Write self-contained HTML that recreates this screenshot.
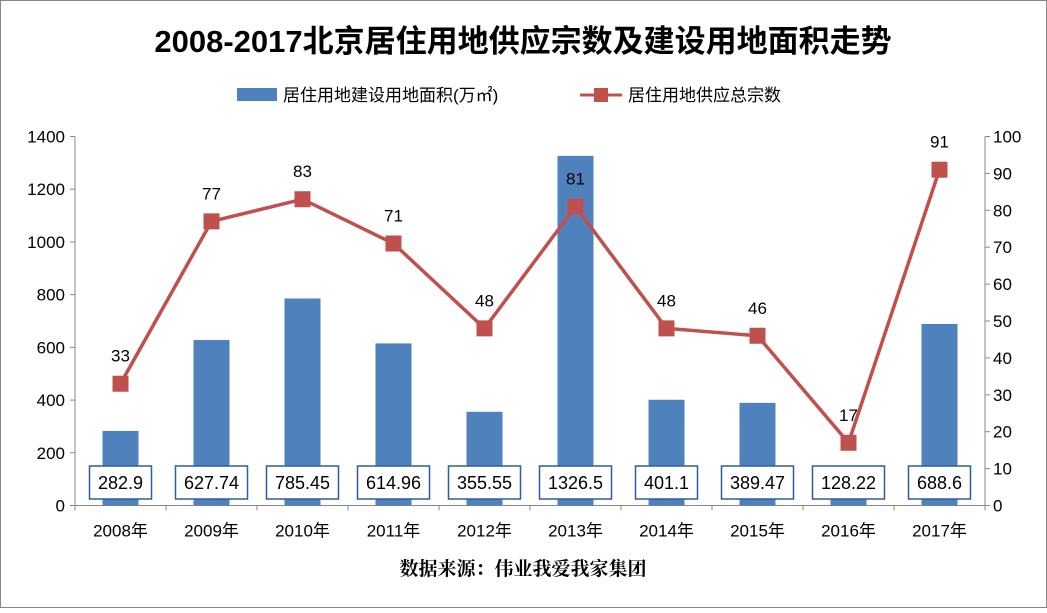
<!DOCTYPE html>
<html><head><meta charset="utf-8"><style>
body{margin:0;background:#fff}
svg text{font-family:"Liberation Sans","Noto Sans CJK SC",sans-serif}
</style></head><body>
<svg id="c" width="1047" height="608" xmlns="http://www.w3.org/2000/svg">
<rect x="0.5" y="0.5" width="1046" height="607" fill="#fff" stroke="#888"/>
<text x="523" y="52" text-anchor="middle" font-size="31" font-weight="bold" fill="#000">2008-2017北京居住用地供应宗数及建设用地面积走势</text>
<g>
<rect x="237" y="88" width="40" height="13" fill="#4f81bd"/>
<text x="283" y="101" font-size="17">居住用地建设用地面积(万㎡)</text>
<line x1="580" y1="95" x2="622" y2="95" stroke="#c0504d" stroke-width="3"/>
<rect x="594" y="88" width="14" height="14" fill="#c0504d"/>
<text x="628" y="101" font-size="17">居住用地供应总宗数</text>
</g>
<g id="axes"></g><g id="bars"></g><g id="line"></g>
<text x="523" y="575" text-anchor="middle" font-size="19" font-weight="bold" style="font-family:'Liberation Serif','Noto Serif CJK SC',serif">数据来源：伟业我爱我家集团</text>
</svg>
<script>
const categories=["2008年","2009年","2010年","2011年","2012年","2013年","2014年","2015年","2016年","2017年"];
const areaValues=[282.9,627.74,785.45,614.96,355.55,1326.5,401.1,389.47,128.22,688.6];
const areaLabels=["282.9","627.74","785.45","614.96","355.55","1326.5","401.1","389.47","128.22","688.6"];
const countValues=[33,77,83,71,48,81,48,46,17,91];
const leftTicks=[0,200,400,600,800,1000,1200,1400];
const rightTicks=[0,10,20,30,40,50,60,70,80,90,100];
const NS="http://www.w3.org/2000/svg";
const X0=75,X1=985,Y0=505.5,Y1=136.5;
const bw=(X1-X0)/categories.length;
const xc=i=>X0+bw*(i+0.5);
const yL=v=>Y0-(v/1400)*(Y0-Y1);
const yR=v=>Y0-(v/100)*(Y0-Y1);
function mk(t,a,p,txt){const e=document.createElementNS(NS,t);for(const k in a)e.setAttribute(k,a[k]);if(txt!==undefined)e.textContent=txt;p.appendChild(e);return e;}
const ax=document.getElementById('axes');
let e;
e=mk('line',{x1:X0,y1:Y1,x2:X0,y2:Y0,stroke:'#888'},ax);


e=mk('line',{x1:X1,y1:Y1,x2:X1,y2:Y0,stroke:'#888'},ax);


e=mk('line',{x1:X0,y1:Y0,x2:X1,y2:Y0,stroke:'#888'},ax);


leftTicks.forEach(v=>{mk('line',{x1:X0-5,y1:yL(v),x2:X0,y2:yL(v),stroke:'#888'},ax);
e=mk('text',{x:X0-10,y:yL(v)+6,'text-anchor':'end','font-size':17},ax,String(v));

});
rightTicks.forEach(v=>{mk('line',{x1:X1,y1:yR(v),x2:X1+5,y2:yR(v),stroke:'#888'},ax);
e=mk('text',{x:X1+8,y:yR(v)+6,'font-size':17},ax,String(v));

});
for(let i=0;i<=categories.length;i++)mk('line',{x1:X0+bw*i,y1:Y0,x2:X0+bw*i,y2:Y0+5,stroke:'#888'},ax);
categories.forEach((c,i)=>{e=mk('text',{x:xc(i),y:Y0+31,'text-anchor':'middle','font-size':17},ax,c);

});
const bg=document.getElementById('bars');
areaValues.forEach((v,i)=>{e=mk('rect',{x:xc(i)-18,y:yL(v),width:36,height:Y0-yL(v),fill:'#4f81bd'},bg);

});
const lg=document.getElementById('line');
e=mk('polyline',{points:countValues.map((v,i)=>xc(i)+','+yR(v)).join(' '),fill:'none',stroke:'#c0504d','stroke-width':3.5},lg);


countValues.forEach((v,i)=>{e=mk('rect',{x:xc(i)-8,y:yR(v)-8,width:16,height:16,fill:'#c0504d'},lg);


e=mk('text',{x:xc(i),y:yR(v)-22,'text-anchor':'middle','font-size':17},lg,String(v));

});
areaLabels.forEach((s,i)=>{const w=s.length*10+12;
e=mk('rect',{x:xc(i)-w/2,y:466,width:w,height:33,fill:'#fff',stroke:'#2e5f99','stroke-width':1.5},lg);


e=mk('text',{x:xc(i),y:489,'text-anchor':'middle','font-size':18},lg,s);

});
</script>
</body></html>
